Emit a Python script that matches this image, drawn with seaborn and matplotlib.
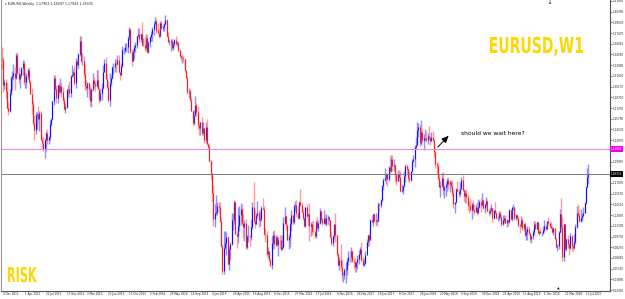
import numpy as np
import pandas as pd
import seaborn as sns
import matplotlib.pyplot as plt
import matplotlib.transforms as mtrans
from matplotlib.textpath import TextPath
from matplotlib.patches import PathPatch
from matplotlib.font_manager import FontProperties

# EURUSD weekly candles, week of 4 Dec 2011 .. week of 2 Aug 2020
first_open = 1.3400
closes = [
    1.3385, 1.3045, 1.3075, 1.2960,
    # 2012
    1.2720, 1.2680, 1.2930, 1.3140, 1.3160, 1.3200, 1.3140, 1.3450, 1.3200, 1.3120, 1.3170, 1.3270, 1.3340,
    1.3080, 1.3080, 1.3160, 1.3240, 1.3080, 1.2920, 1.2780, 1.2520, 1.2430, 1.2630, 1.2640, 1.2570, 1.2660,
    1.2290, 1.2250, 1.2160, 1.2290, 1.2390, 1.2290, 1.2330, 1.2510, 1.2580, 1.2820, 1.3130, 1.2980, 1.2860, 1.3040,
    1.2950, 1.3020, 1.2940, 1.2830, 1.2710, 1.2740, 1.2970, 1.2990, 1.2930, 1.3160, 1.3180, 1.3220, 1.3070,
    # 2013
    1.3370, 1.3310, 1.3460, 1.3640, 1.3360, 1.3360, 1.3190, 1.3020, 1.3000, 1.3070, 1.2990, 1.2820, 1.2990,
    1.3110, 1.3050, 1.3030, 1.3110, 1.2990, 1.2830, 1.2930, 1.3000, 1.3220, 1.3340, 1.3120, 1.3010, 1.2830,
    1.3060, 1.3140, 1.3280, 1.3280, 1.3340, 1.3330, 1.3380, 1.3220, 1.3180, 1.3300, 1.3520, 1.3520, 1.3550,
    1.3550, 1.3680, 1.3800, 1.3490, 1.3370, 1.3500, 1.3560, 1.3590, 1.3700, 1.3740, 1.3670, 1.3730, 1.3590,
    # 2014
    1.3590, 1.3540, 1.3680, 1.3490, 1.3630, 1.3690, 1.3740, 1.3800, 1.3870, 1.3910, 1.3790, 1.3750, 1.3700,
    1.3890, 1.3810, 1.3830, 1.3870, 1.3930, 1.3700, 1.3630, 1.3630, 1.3640, 1.3540, 1.3600, 1.3650, 1.3600,
    1.3610, 1.3520, 1.3430, 1.3410, 1.3410, 1.3400, 1.3240, 1.3130, 1.2950, 1.2960, 1.2830, 1.2680, 1.2520,
    1.2630, 1.2760, 1.2670, 1.2490, 1.2450, 1.2530, 1.2390, 1.2450, 1.2290, 1.2460, 1.2230, 1.2190, 1.2000,
    # 2015
    1.1840, 1.1570, 1.1210, 1.1290, 1.1310, 1.1390, 1.1380, 1.1190, 1.0840, 1.0500, 1.0820, 1.0890, 1.0970,
    1.0600, 1.0810, 1.0870, 1.1200, 1.1200, 1.1450, 1.1010, 1.0980, 1.1110, 1.1260, 1.1350, 1.1160, 1.1100,
    1.1160, 1.0830, 1.0980, 1.0980, 1.0960, 1.1100, 1.1380, 1.1180, 1.1150, 1.1270, 1.1300, 1.1200, 1.1210,
    1.1360, 1.1350, 1.1010, 1.1000, 1.0740, 1.0770, 1.0650, 1.0590, 1.0880, 1.0990, 1.0870, 1.0970, 1.0860,
    # 2016
    1.0930, 1.0920, 1.0800, 1.0830, 1.1160, 1.1250, 1.1130, 1.0930, 1.0970, 1.1150, 1.1270, 1.1170, 1.1390,
    1.1400, 1.1290, 1.1220, 1.1450, 1.1400, 1.1310, 1.1220, 1.1120, 1.1370, 1.1250, 1.1280, 1.1120, 1.1140,
    1.1050, 1.1040, 1.0980, 1.1170, 1.1090, 1.1160, 1.1320, 1.1200, 1.1160, 1.1230, 1.1150, 1.1230, 1.1240,
    1.1200, 1.0970, 1.0880, 1.0980, 1.1140, 1.0990, 1.0730, 1.0590, 1.0660, 1.0560, 1.0450, 1.0450, 1.0520,
    # 2017
    1.0530, 1.0640, 1.0700, 1.0690, 1.0780, 1.0640, 1.0620, 1.0560, 1.0620, 1.0670, 1.0740, 1.0800, 1.0650,
    1.0590, 1.0610, 1.0720, 1.0900, 1.0990, 1.0930, 1.1200, 1.1170, 1.1280, 1.1190, 1.1200, 1.1190, 1.1420,
    1.1400, 1.1470, 1.1660, 1.1750, 1.1770, 1.1820, 1.1760, 1.1920, 1.1860, 1.2030, 1.1940, 1.1950, 1.1820,
    1.1730, 1.1820, 1.1780, 1.1600, 1.1610, 1.1660, 1.1800, 1.1930, 1.1900, 1.1770, 1.1750, 1.1860, 1.2000, 1.2030,
    # 2018
    1.2200, 1.2220, 1.2430, 1.2460, 1.2250, 1.2400, 1.2290, 1.2310, 1.2310, 1.2290, 1.2350, 1.2320,
    1.2280, 1.2330, 1.2290, 1.2130, 1.1960, 1.1940, 1.1770, 1.1650, 1.1660, 1.1770, 1.1610, 1.1650, 1.1680,
    1.1750, 1.1690, 1.1720, 1.1660, 1.1570, 1.1410, 1.1440, 1.1620, 1.1600, 1.1550, 1.1620, 1.1750, 1.1610, 1.1520,
    1.1560, 1.1510, 1.1400, 1.1390, 1.1330, 1.1420, 1.1340, 1.1310, 1.1380, 1.1300, 1.1370, 1.1440, 1.1400,
    # 2019
    1.1470, 1.1360, 1.1410, 1.1460, 1.1320, 1.1290, 1.1330, 1.1360, 1.1230, 1.1330, 1.1300, 1.1220, 1.1220,
    1.1300, 1.1240, 1.1150, 1.1200, 1.1230, 1.1160, 1.1200, 1.1170, 1.1330, 1.1210, 1.1370, 1.1370, 1.1220,
    1.1270, 1.1220, 1.1130, 1.1110, 1.1200, 1.1090, 1.1140, 1.0990, 1.1030, 1.1070, 1.1020, 1.0940, 1.0980,
    1.1040, 1.1140, 1.1080, 1.1170, 1.1020, 1.1050, 1.1020, 1.1020, 1.1060, 1.1120, 1.1080, 1.1180, 1.1160,
    # 2020
    1.1120, 1.1090, 1.1030, 1.1090, 1.0940, 1.0830, 1.0850, 1.1030, 1.1280, 1.1100, 1.0690, 1.1140, 1.0800,
    1.0940, 1.0870, 1.0820, 1.0980, 1.0840, 1.0820, 1.0900, 1.1100, 1.1290, 1.1260, 1.1180, 1.1220, 1.1250,
    1.1300, 1.1430, 1.1650, 1.1780, 1.1830,
]
highs = [
    1.3550, 1.3420, 1.3115, 1.3120,
    1.3080, 1.2815, 1.2990, 1.3165, 1.3235, 1.3320, 1.3290, 1.3480, 1.3485, 1.3290, 1.3205, 1.3290, 1.3385,
    1.3385, 1.3210, 1.3200, 1.3265, 1.3285, 1.3110, 1.2995, 1.2825, 1.2625, 1.2670, 1.2670, 1.2750, 1.2690,
    1.2690, 1.2330, 1.2325, 1.2320, 1.2405, 1.2445, 1.2345, 1.2560, 1.2590, 1.2825, 1.3170, 1.3170, 1.3045, 1.3045,
    1.3060, 1.3140, 1.3085, 1.3015, 1.2880, 1.2800, 1.2990, 1.3040, 1.3090, 1.3170, 1.3310, 1.3260, 1.3295,
    1.3405, 1.3405, 1.3480, 1.3710, 1.3710, 1.3480, 1.3440, 1.3320, 1.3110, 1.3080, 1.3080, 1.3030, 1.3000,
    1.3200, 1.3145, 1.3100, 1.3245, 1.3240, 1.3010, 1.2985, 1.3060, 1.3305, 1.3390, 1.3415, 1.3190, 1.3090,
    1.3205, 1.3175, 1.3300, 1.3345, 1.3395, 1.3390, 1.3450, 1.3450, 1.3235, 1.3345, 1.3570, 1.3545, 1.3605,
    1.3610, 1.3705, 1.3830, 1.3815, 1.3530, 1.3530, 1.3580, 1.3620, 1.3710, 1.3810, 1.3810, 1.3745, 1.3895,
    1.3675, 1.3700, 1.3740, 1.3740, 1.3640, 1.3700, 1.3775, 1.3825, 1.3915, 1.3965, 1.3945, 1.3880, 1.3810,
    1.3905, 1.3905, 1.3860, 1.3890, 1.3993, 1.3935, 1.3760, 1.3670, 1.3670, 1.3675, 1.3645, 1.3665, 1.3700,
    1.3645, 1.3645, 1.3535, 1.3445, 1.3445, 1.3445, 1.3405, 1.3250, 1.3165, 1.2995, 1.2990, 1.2875, 1.2700,
    1.2700, 1.2885, 1.2790, 1.2750, 1.2535, 1.2535, 1.2600, 1.2530, 1.2455, 1.2530, 1.2570, 1.2250, 1.2250,
    1.2010, 1.1845, 1.1680, 1.1420, 1.1535, 1.1445, 1.1450, 1.1440, 1.1245, 1.0870, 1.1045, 1.1050, 1.1030,
    1.0980, 1.0850, 1.0900, 1.1290, 1.1290, 1.1465, 1.1460, 1.1055, 1.1380, 1.1385, 1.1435, 1.1410, 1.1280,
    1.1200, 1.1215, 1.0990, 1.1130, 1.1000, 1.1215, 1.1440, 1.1715, 1.1330, 1.1290, 1.1460, 1.1330, 1.1320,
    1.1385, 1.1495, 1.1390, 1.1095, 1.1050, 1.0830, 1.0780, 1.0680, 1.0985, 1.1045, 1.1060, 1.0990, 1.0990,
    1.0970, 1.0990, 1.0990, 1.0990, 1.1240, 1.1375, 1.1260, 1.1140, 1.1010, 1.1220, 1.1340, 1.1275, 1.1410,
    1.1455, 1.1465, 1.1400, 1.1460, 1.1615, 1.1445, 1.1350, 1.1255, 1.1375, 1.1415, 1.1300, 1.1425, 1.1165,
    1.1185, 1.1185, 1.1080, 1.1200, 1.1235, 1.1195, 1.1365, 1.1325, 1.1220, 1.1330, 1.1285, 1.1285, 1.1265,
    1.1250, 1.1205, 1.1040, 1.0990, 1.1145, 1.1300, 1.0995, 1.0755, 1.0690, 1.0875, 1.0670, 1.0490, 1.0545,
    1.0630, 1.0685, 1.0775, 1.0775, 1.0830, 1.0790, 1.0680, 1.0680, 1.0630, 1.0715, 1.0785, 1.0830, 1.0905,
    1.0690, 1.0680, 1.0775, 1.0935, 1.0995, 1.1020, 1.1210, 1.1270, 1.1285, 1.1295, 1.1295, 1.1225, 1.1445,
    1.1425, 1.1490, 1.1680, 1.1775, 1.1910, 1.1840, 1.1840, 1.1940, 1.2070, 1.2090, 1.2090, 1.2035, 1.1960,
    1.1835, 1.1880, 1.1880, 1.1860, 1.1690, 1.1665, 1.1860, 1.1960, 1.1960, 1.1905, 1.1860, 1.1865, 1.2025, 1.2090,
    1.2220, 1.2325, 1.2535, 1.2520, 1.2510, 1.2555, 1.2435, 1.2365, 1.2445, 1.2410, 1.2390, 1.2475,
    1.2340, 1.2395, 1.2415, 1.2300, 1.2140, 1.1995, 1.1995, 1.1830, 1.1725, 1.1840, 1.1850, 1.1675, 1.1720,
    1.1765, 1.1790, 1.1745, 1.1750, 1.1745, 1.1625, 1.1450, 1.1640, 1.1735, 1.1640, 1.1720, 1.1790, 1.1815, 1.1620,
    1.1610, 1.1620, 1.1550, 1.1455, 1.1500, 1.1440, 1.1470, 1.1400, 1.1420, 1.1445, 1.1485, 1.1475, 1.1500,
    1.1570, 1.1485, 1.1420, 1.1515, 1.1490, 1.1345, 1.1370, 1.1420, 1.1365, 1.1340, 1.1450, 1.1325, 1.1255,
    1.1325, 1.1325, 1.1270, 1.1265, 1.1265, 1.1265, 1.1215, 1.1215, 1.1350, 1.1350, 1.1380, 1.1410, 1.1395,
    1.1285, 1.1285, 1.1245, 1.1160, 1.1250, 1.1230, 1.1155, 1.1165, 1.1085, 1.1110, 1.1110, 1.1025, 1.0995,
    1.1060, 1.1180, 1.1180, 1.1175, 1.1180, 1.1055, 1.1090, 1.1040, 1.1115, 1.1200, 1.1145, 1.1190, 1.1240,
    1.1190, 1.1175, 1.1120, 1.1100, 1.1095, 1.0960, 1.0865, 1.1050, 1.1355, 1.1495, 1.1240, 1.1145, 1.1145,
    1.0950, 1.0990, 1.0890, 1.1020, 1.0990, 1.0875, 1.1010, 1.1150, 1.1385, 1.1420, 1.1350, 1.1350, 1.1300,
    1.1375, 1.1450, 1.1660, 1.1910, 1.1965,
]
lows = [
    1.3260, 1.2945, 1.2990, 1.2860,
    1.2710, 1.2625, 1.2665, 1.2900, 1.2975, 1.3110, 1.2975, 1.3120, 1.3195, 1.3060, 1.3000, 1.3145, 1.3180,
    1.3035, 1.3000, 1.3000, 1.3120, 1.3070, 1.2910, 1.2640, 1.2495, 1.2285, 1.2370, 1.2440, 1.2520, 1.2405,
    1.2285, 1.2160, 1.2145, 1.2042, 1.2135, 1.2240, 1.2240, 1.2295, 1.2475, 1.2565, 1.2770, 1.2945, 1.2800, 1.2800,
    1.2900, 1.2925, 1.2880, 1.2800, 1.2700, 1.2660, 1.2730, 1.2880, 1.2880, 1.2875, 1.3150, 1.3160, 1.3040,
    1.3000, 1.3255, 1.3275, 1.3435, 1.3350, 1.3310, 1.3145, 1.2965, 1.2955, 1.2880, 1.2845, 1.2750, 1.2745,
    1.2955, 1.3000, 1.2955, 1.3010, 1.2985, 1.2795, 1.2815, 1.2840, 1.2985, 1.3210, 1.3115, 1.2985, 1.2805,
    1.2755, 1.3030, 1.3120, 1.3185, 1.3220, 1.3220, 1.3310, 1.3205, 1.3105, 1.3170, 1.3290, 1.3455, 1.3495,
    1.3495, 1.3480, 1.3650, 1.3480, 1.3295, 1.3360, 1.3400, 1.3495, 1.3545, 1.3690, 1.3625, 1.3625, 1.3575,
    1.3575, 1.3505, 1.3510, 1.3480, 1.3475, 1.3560, 1.3640, 1.3640, 1.3720, 1.3855, 1.3750, 1.3745, 1.3675,
    1.3690, 1.3790, 1.3780, 1.3775, 1.3855, 1.3690, 1.3620, 1.3585, 1.3505, 1.3530, 1.3520, 1.3575, 1.3595,
    1.3575, 1.3490, 1.3420, 1.3365, 1.3335, 1.3350, 1.3215, 1.3130, 1.2920, 1.2860, 1.2825, 1.2680, 1.2500,
    1.2500, 1.2610, 1.2615, 1.2440, 1.2360, 1.2360, 1.2360, 1.2360, 1.2245, 1.2245, 1.2220, 1.2165, 1.1995,
    1.1755, 1.1460, 1.1115, 1.1100, 1.1270, 1.1260, 1.1300, 1.1175, 1.0830, 1.0462, 1.0460, 1.0800, 1.0715,
    1.0580, 1.0520, 1.0660, 1.0860, 1.1060, 1.1150, 1.1005, 1.0820, 1.0885, 1.1050, 1.1135, 1.1130, 1.0955,
    1.0915, 1.0810, 1.0810, 1.0905, 1.0850, 1.0925, 1.1080, 1.1160, 1.1085, 1.1140, 1.1220, 1.1100, 1.1120,
    1.1180, 1.1330, 1.1000, 1.0900, 1.0710, 1.0675, 1.0620, 1.0560, 1.0525, 1.0800, 1.0805, 1.0850, 1.0850,
    1.0710, 1.0805, 1.0775, 1.0790, 1.0820, 1.1140, 1.1065, 1.0920, 1.0810, 1.0825, 1.1055, 1.1145, 1.1145,
    1.1325, 1.1235, 1.1215, 1.1215, 1.1385, 1.1305, 1.1200, 1.1100, 1.1105, 1.1245, 1.1130, 1.0910, 1.0980,
    1.1000, 1.1035, 1.0950, 1.0950, 1.1045, 1.1045, 1.1145, 1.1180, 1.1125, 1.1140, 1.1145, 1.1120, 1.1150,
    1.1120, 1.0960, 1.0860, 1.0850, 1.0940, 1.0905, 1.0710, 1.0570, 1.0520, 1.0505, 1.0365, 1.0350, 1.0400,
    1.0340, 1.0455, 1.0580, 1.0620, 1.0620, 1.0620, 1.0525, 1.0495, 1.0495, 1.0525, 1.0600, 1.0725, 1.0640,
    1.0570, 1.0570, 1.0600, 1.0820, 1.0850, 1.0840, 1.0925, 1.1160, 1.1110, 1.1180, 1.1130, 1.1120, 1.1170,
    1.1310, 1.1370, 1.1460, 1.1610, 1.1730, 1.1690, 1.1660, 1.1735, 1.1820, 1.1850, 1.1870, 1.1860, 1.1715,
    1.1670, 1.1725, 1.1730, 1.1575, 1.1575, 1.1555, 1.1655, 1.1715, 1.1835, 1.1730, 1.1715, 1.1730, 1.1850, 1.1995,
    1.1915, 1.2165, 1.2215, 1.2335, 1.2205, 1.2215, 1.2260, 1.2155, 1.2270, 1.2260, 1.2240, 1.2290,
    1.2215, 1.2270, 1.2275, 1.2055, 1.1910, 1.1820, 1.1750, 1.1645, 1.1510, 1.1645, 1.1540, 1.1505, 1.1525,
    1.1590, 1.1615, 1.1575, 1.1620, 1.1530, 1.1365, 1.1300, 1.1430, 1.1590, 1.1510, 1.1525, 1.1615, 1.1595, 1.1460,
    1.1435, 1.1430, 1.1335, 1.1300, 1.1320, 1.1215, 1.1335, 1.1265, 1.1305, 1.1270, 1.1295, 1.1360, 1.1310,
    1.1390, 1.1350, 1.1290, 1.1395, 1.1315, 1.1250, 1.1280, 1.1320, 1.1175, 1.1215, 1.1290, 1.1210, 1.1185,
    1.1205, 1.1225, 1.1110, 1.1135, 1.1160, 1.1155, 1.1105, 1.1115, 1.1155, 1.1200, 1.1180, 1.1340, 1.1205,
    1.1195, 1.1200, 1.1100, 1.1025, 1.1105, 1.1065, 1.1050, 1.0965, 1.0925, 1.0925, 1.0990, 1.0905, 1.0880,
    1.0940, 1.1000, 1.1070, 1.1070, 1.1015, 1.0990, 1.1015, 1.0980, 1.1010, 1.1040, 1.1065, 1.1070, 1.1125,
    1.1085, 1.1085, 1.1020, 1.0990, 1.0935, 1.0825, 1.0778, 1.0810, 1.1020, 1.1055, 1.0636, 1.0640, 1.0770,
    1.0770, 1.0815, 1.0725, 1.0810, 1.0780, 1.0775, 1.0815, 1.0870, 1.1095, 1.1240, 1.1170, 1.1170, 1.1185,
    1.1255, 1.1295, 1.1420, 1.1645, 1.1695,
]

date_labels = ["4 Dec 2011", "1 Apr 2012", "22 Jul 2012", "11 Nov 2012", "3 Mar 2013", "23 Jun 2013",
               "13 Oct 2013", "2 Feb 2014", "25 May 2014", "14 Sep 2014", "4 Jan 2015", "26 Apr 2015",
               "16 Aug 2015", "6 Dec 2015", "27 Mar 2016", "17 Jul 2016", "6 Nov 2016", "26 Feb 2017",
               "18 Jun 2017", "8 Oct 2017", "28 Jan 2018", "20 May 2018", "9 Sep 2018", "30 Dec 2018",
               "21 Apr 2019", "11 Aug 2019", "1 Dec 2019", "22 Mar 2020", "12 Jul 2020"]
price_ticks = [1.41850, 1.40390, 1.38930, 1.37470, 1.36010, 1.34550, 1.33090, 1.31630, 1.30170, 1.28710,
               1.27250, 1.25790, 1.24330, 1.22870, 1.21410, 1.19950, 1.18490, 1.17030, 1.15570, 1.14110,
               1.12650, 1.11190, 1.09730, 1.08270, 1.06810, 1.05350, 1.03890, 1.02430]
level_pink = 1.2166
level_now = 1.1826
header = "EURUSD,Weekly  1.17903 1.18497 1.17943 1.18335"

df = pd.DataFrame({"close": closes, "high": highs, "low": lows})
df["open"] = [first_open] + closes[:-1]
df["date"] = pd.date_range("2011-12-04", periods=len(df), freq="W-SUN")
df["x"] = np.arange(len(df))
up = df["close"] >= df["open"]

sns.set_theme(style="white")
plt.rcParams["font.family"] = ["DejaVu Sans"]

fig = plt.figure(figsize=(6.25, 2.99), dpi=100)
ax = fig.add_axes([1 / 625, 8 / 299, 609 / 625, 291 / 299])

# wicks (light) then bodies (strong)
for mask, wick_c, body_c in [(up, "#8e8eff", "#1010ff"), (~up, "#ff9a9a", "#ff1a1a")]:
    d = df[mask]
    ax.vlines(d["x"], d["low"], d["high"], color=wick_c, lw=1.0)
    ax.vlines(d["x"], d[["open", "close"]].min(axis=1), d[["open", "close"]].max(axis=1),
              color=body_c, lw=0.75)

ax.axhline(level_pink, color="#ee82ee", lw=0.7)
ax.axhline(level_now, color="#7a7a7a", lw=0.7)

ax.set_xlim(-0.6, 468.6)
ax.set_ylim(1.02307, 1.41975)

ax.spines["top"].set_visible(False)
ax.spines["left"].set_color("#9a9a9a")
ax.spines["left"].set_linewidth(0.8)
for side in ["right", "bottom"]:
    ax.spines[side].set_color("#555555")
    ax.spines[side].set_linewidth(0.8)

# right price scale; the two tagged levels hide the labels under them
ax.yaxis.tick_right()
ax.set_yticks(price_ticks)
ylabels = ["" if min(abs(v - level_pink), abs(v - level_now)) < 0.006 else f"{v:.5f}" for v in price_ticks]
ax.set_yticklabels(ylabels, fontsize=2.0, color="#222222")
ax.tick_params(axis="y", length=1.5, width=0.4, pad=0.8, colors="#222222")

tick_pos = [df.index[df["date"] == pd.to_datetime(s, format="%d %b %Y")][0] for s in date_labels]
ax.set_xticks(tick_pos)
ax.set_xticklabels(date_labels, fontsize=2.0, color="#222222")
ax.tick_params(axis="x", length=4, width=0.4, pad=-3.0, colors="#222222", direction="out")
offset = mtrans.ScaledTranslation(1.2 / 100, 0, fig.dpi_scale_trans)
for lbl in ax.get_xticklabels():
    lbl.set_horizontalalignment("left")
    lbl.set_transform(lbl.get_transform() + offset)

# price tags on the right axis
ax.text(1.002, level_pink, "1.21660", transform=ax.get_yaxis_transform(), fontsize=2.0,
        color="white", va="center", ha="left",
        bbox=dict(boxstyle="square,pad=0.3", fc="#ee00ee", ec="none"))
ax.text(1.002, level_now, "1.18335", transform=ax.get_yaxis_transform(), fontsize=2.0,
        color="white", va="center", ha="left",
        bbox=dict(boxstyle="square,pad=0.3", fc="black", ec="none"))

ax.text(0.006, 0.992, "\u25be " + header, transform=ax.transAxes, fontsize=2.3,
        color="#222222", va="top", ha="left")


def condensed_label(text, left, baseline, width, cap):
    # bold text squeezed to the narrow look of the terminal labels (pixel units, origin bottom-left)
    path = TextPath((0, 0), text, size=100, prop=FontProperties(family="DejaVu Sans", weight="bold"))
    ext = path.get_extents()
    sx = width / ext.width
    sy = cap / 72.9
    tr = mtrans.Affine2D().translate(-ext.x0, 0).scale(sx, sy).translate(left, baseline)
    fig.add_artist(PathPatch(path, transform=tr + mtrans.IdentityTransform(),
                             fc="#ffd700", ec="none"))


condensed_label("EURUSD,W1", 490, 299 - 53, 93, 16)
condensed_label("RISK", 8, 299 - 282, 29, 15)

ax.text(353.5, 1.2371, "should we wait here?", fontsize=4.3, color="black", va="center", ha="left")
ax.annotate("", xy=(345.8, 1.2375), xytext=(334.4, 1.2166),
            arrowprops=dict(arrowstyle="-|>,head_length=0.35,head_width=0.15", color="black", lw=0.7))

# small object anchors at top/bottom edges
ax.text(0.9, 1.0, "\u2193", transform=ax.transAxes, fontsize=3.5, color="black",
        ha="center", va="top", fontweight="bold")
ax.text(0.915, 0.0, "\u25b2", transform=ax.transAxes, fontsize=2.5, color="black",
        ha="center", va="bottom")

fig.savefig("out.png", dpi=100)
